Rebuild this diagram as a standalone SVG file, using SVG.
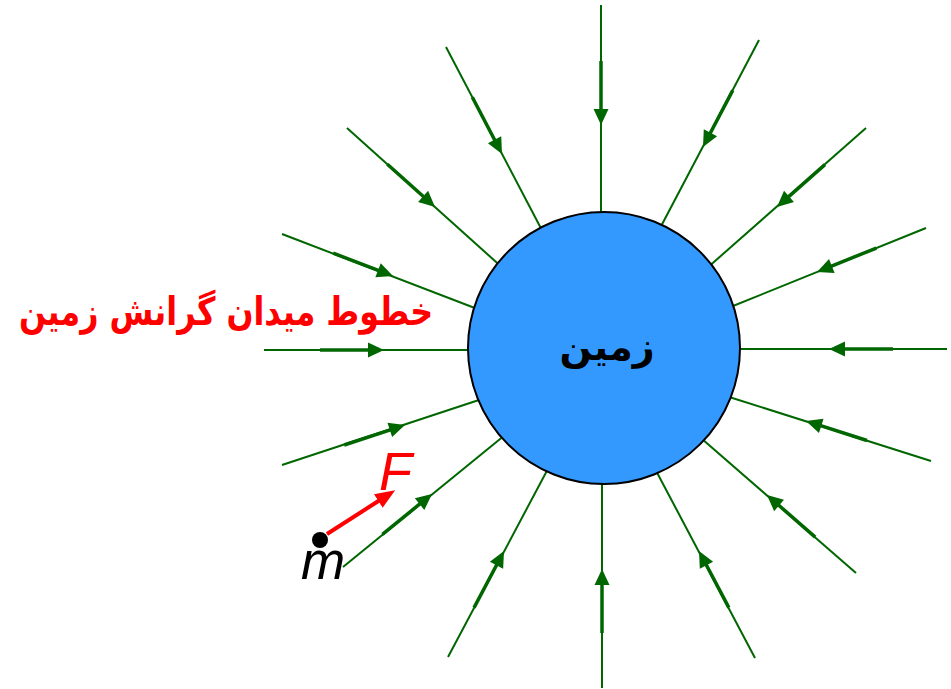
<svg xmlns="http://www.w3.org/2000/svg" xmlns:xlink="http://www.w3.org/1999/xlink" width="951" height="689" viewBox="0 0 951 689">
<style>
.fl{stroke:#006600;stroke-width:2;fill:none}
.th{stroke:#006600;stroke-width:3.5}
.hd{fill:#006600}
.persian{font-family:"DejaVu Sans",sans-serif;font-weight:bold;direction:rtl}
</style>
<defs>
<g id="arr"><line class="th" x1="-64" y1="0" x2="-13" y2="0"/><polygon class="hd" points="0,0 -16,-7.5 -16,7.5"/></g>
<marker id="fh" markerUnits="userSpaceOnUse" markerWidth="22" markerHeight="22" refX="2" refY="8" orient="auto"><path d="M0,0 L20,8 L0,16 z" fill="#ff0000"/></marker>
</defs>
<rect width="951" height="689" fill="#ffffff"/>
<g id="connectors">
<line class="fl" x1="601" y1="5" x2="601" y2="222"/>
<line class="fl" x1="759" y1="40" x2="658" y2="232"/>
<line class="fl" x1="866" y1="128" x2="706" y2="269"/>
<line class="fl" x1="926" y1="228" x2="728" y2="308"/>
<line class="fl" x1="947" y1="349" x2="732" y2="349"/>
<line class="fl" x1="931" y1="461" x2="726" y2="396"/>
<line class="fl" x1="856" y1="573" x2="694" y2="432"/>
<line class="fl" x1="755" y1="658" x2="653" y2="465"/>
<line class="fl" x1="602" y1="688" x2="602" y2="475"/>
<line class="fl" x1="448" y1="657" x2="550" y2="465"/>
<line class="fl" x1="343" y1="567" x2="505" y2="435"/>
<line class="fl" x1="282" y1="465" x2="485" y2="398"/>
<line class="fl" x1="264" y1="350" x2="476" y2="350"/>
<line class="fl" x1="282" y1="234" x2="480" y2="310"/>
<line class="fl" x1="347" y1="128" x2="505" y2="270"/>
<line class="fl" x1="446" y1="47" x2="545" y2="236"/>
<use xlink:href="#arr" transform="translate(601,125) rotate(90)"/>
<use xlink:href="#arr" transform="translate(703,147) rotate(117.7)"/>
<use xlink:href="#arr" transform="translate(777,207) rotate(138.5)"/>
<use xlink:href="#arr" transform="translate(817,272) rotate(158)"/>
<use xlink:href="#arr" transform="translate(829,349) rotate(180)"/>
<use xlink:href="#arr" transform="translate(806,421) rotate(197.7)"/>
<use xlink:href="#arr" transform="translate(767,495) rotate(221.1)"/>
<use xlink:href="#arr" transform="translate(699,551) rotate(242.2)"/>
<use xlink:href="#arr" transform="translate(602,569) rotate(270)"/>
<use xlink:href="#arr" transform="translate(504,551) rotate(-62.1)"/>
<use xlink:href="#arr" transform="translate(432,494) rotate(-39.2)"/>
<use xlink:href="#arr" transform="translate(405,425) rotate(-18.2)"/>
<use xlink:href="#arr" transform="translate(384,350) rotate(0)"/>
<use xlink:href="#arr" transform="translate(393,276) rotate(20.9)"/>
<use xlink:href="#arr" transform="translate(435,207) rotate(41.9)"/>
<use xlink:href="#arr" transform="translate(502,154) rotate(62.4)"/>
</g>
<g id="earth">
<circle cx="604" cy="348" r="136" fill="#3399ff" stroke="#000000" stroke-width="2"/>
<text class="persian" x="607" y="360" font-size="38" text-anchor="middle" fill="#000000">زمین</text>
</g>
<g id="title">
<text class="persian" x="226" y="325" font-size="39" text-anchor="middle" textLength="414" lengthAdjust="spacingAndGlyphs" fill="#ff0000">خطوط میدان گرانش زمین</text>
</g>
<g id="mass">
<line x1="327" y1="534" x2="380" y2="500" stroke="#ff0000" stroke-width="4" marker-end="url(#fh)"/>
<circle cx="320" cy="540" r="8" fill="#000000"/>
<text x="301" y="579" font-family="Liberation Sans, sans-serif" font-style="italic" font-size="53" fill="#000000">m</text>
<text x="379" y="490" font-family="Liberation Sans, sans-serif" font-style="italic" font-size="54" fill="#ff0000">F</text>
</g>
</svg>
